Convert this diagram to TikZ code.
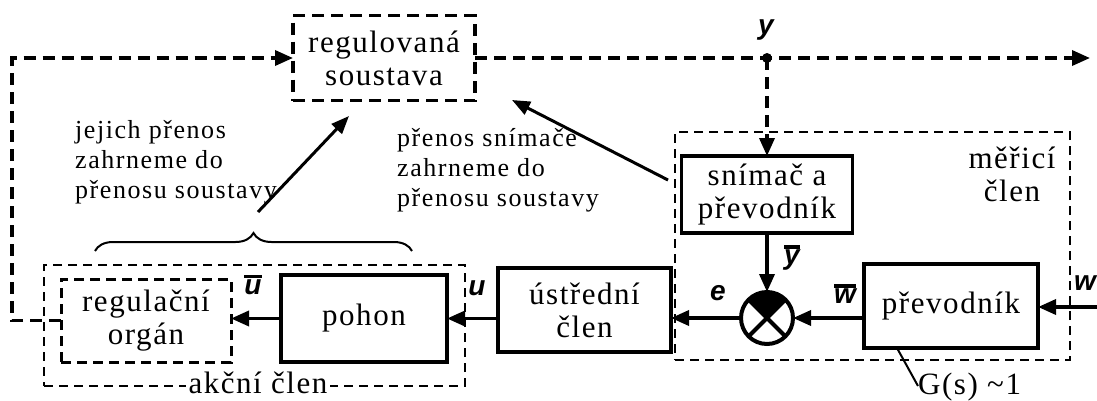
\documentclass[tikz,border=0pt]{standalone}
\usepackage{fontspec}
\setmainfont{Liberation Serif}
\newfontfamily\boxfont{Liberation Serif}[LetterSpace=5]
\newfontfamily\notefont{Liberation Serif}[LetterSpace=6]
\newfontfamily\sigfont{Liberation Sans}
\usetikzlibrary{arrows.meta,decorations.pathreplacing,calc}
\newcommand\ob[1]{\vbox{\hrule height 3.5pt\kern 1.5pt\hbox{#1}}}
\begin{document}
\begin{tikzpicture}[x=1pt,y=-1pt,
  blk/.style={draw, line width=3.5pt, font=\boxfont\fontsize{31}{33}\selectfont, align=center, inner sep=0pt, outer sep=0pt},
  dblk/.style={draw, line width=3.5pt, dash pattern=on 12pt off 7pt, font=\boxfont\fontsize{31}{33}\selectfont, align=center, inner sep=0pt, outer sep=0pt},
  grp/.style={draw, line width=2.5pt, dash pattern=on 9pt off 6pt, inner sep=0pt, outer sep=0pt},
  sig/.style={font=\sigfont\bfseries\itshape\fontsize{28}{30}\selectfont, inner sep=0pt},
  note/.style={font=\notefont\fontsize{26}{30}\selectfont, align=left, inner sep=0pt},
  lbl/.style={font=\boxfont\fontsize{31}{33}\selectfont, align=center, inner sep=0pt},
  arr/.style={line width=3.5pt, -{Triangle[length=18pt,width=15pt]}},
  darr/.style={line width=3.5pt, dash pattern=on 12pt off 7pt, -{Triangle[length=18pt,width=15pt]}},
  thinarr/.style={line width=3pt, -{Triangle[length=18pt,width=14pt]}},
]
\useasboundingbox (0,0) rectangle (1097,400);

% group boxes
\node[grp, minimum width=395pt, minimum height=228pt] (mer) at (872.5,246) {};
\node[grp, minimum width=421pt, minimum height=121pt] (akc) at (254.5,325.5) {};

% blocks
\node[dblk, minimum width=182pt, minimum height=85pt] (reg) at (384,58) {regulovaná\\soustava};
\node[blk, minimum width=171pt, minimum height=77pt] (sni) at (767,194.5) {snímač a\\převodník};
\node[draw, circle, line width=4pt, minimum size=52pt, inner sep=0pt, outer sep=0pt] (sum) at (767,318) {};
\node[blk, minimum width=174pt, minimum height=84pt] (prev) at (951,306) {převodník};
\node[blk, minimum width=173pt, minimum height=84pt] (ust) at (584.5,310) {ústřední\\člen};
\node[blk, minimum width=166pt, minimum height=87pt] (poh) at (364,318.5) {pohon};
\node[dblk, minimum width=170pt, minimum height=83pt, line width=3pt, dash pattern=on 10pt off 6pt] (org) at (146,320.5) {regulační\\orgán};

% labels of groups
\node[lbl, fill=white, inner xsep=3pt, anchor=base] (akcl) at (258,393) {akční člen};
\node[lbl] (merl) at (1012,174) {měřicí\\člen};

% summing junction details
\begin{scope}
  \clip (sum.center) -- ($(sum.center)+(-40,-40)$) -- ($(sum.center)+(40,-40)$) -- cycle;
  \fill (sum.center) circle[radius=26pt];
\end{scope}
\draw[line width=4pt] (sum.45) -- (sum.225) (sum.135) -- (sum.315);

% coordinates
\coordinate (yd) at (767,58);
\coordinate (outend) at (1090,58);
\coordinate (fbc) at (12,0);
\coordinate (win) at (1097,307);
\coordinate (bl) at (95,251);
\coordinate (br) at (412,251);
\coordinate (ba1) at (258,212);
\coordinate (ba2) at (349,116);
\coordinate (sa1) at (668,180);
\coordinate (sa2) at (512,100);
\coordinate (g1) at (897,348);
\coordinate (g2) at (918,386);

% connectors
\draw[darr] (reg.east) -- (outend);
\fill (yd) circle[radius=5pt];
\draw[darr] (yd) -- (sni.north);
\draw[darr] (org.west) -- (org.west -| fbc) |- (reg.west);
\draw[arr] (sni.south) -- (sum.north);
\draw[arr] (prev.west |- sum) -- (sum.east);
\draw[arr] (sum.west) -- (sum.west -| ust.east);
\draw[arr] (ust.west |- poh.east) -- (poh.east);
\draw[arr] (poh.west) -- (poh.west -| org.east);
\draw[arr] (win) -- (prev.east |- win);

% brace and note arrows
\draw[decorate, decoration={brace, amplitude=18pt}, line width=2pt] (bl) -- (br);
\draw[thinarr] (ba1) -- (ba2);
\draw[thinarr] (sa1) -- (sa2);
\draw[line width=2pt] (g1) -- (g2);

% notes (base anchor = last line)
\node[note, anchor=base west] (n1) at (75,198) {jejich přenos\\zahrneme do\\přenosu soustavy};
\node[note, anchor=base west] (n2) at (397,206) {přenos snímače\\zahrneme do\\přenosu soustavy};
\node[lbl, anchor=base west] (gs) at (918,394) {G(s) \textasciitilde1};

% signal labels
\node[sig] (ly) at (766,30) {y};
\node[sig] (lyb) at (792,258) {\ob{y}};
\node[sig] (le) at (718,293) {e};
\node[sig] (lwb) at (845,294) {\ob{w}};
\node[sig] (lw) at (1085,283) {w};
\node[sig] (lu) at (477,288) {u};
\node[sig] (lub) at (253,285) {\ob{u}};
\end{tikzpicture}
\end{document}
